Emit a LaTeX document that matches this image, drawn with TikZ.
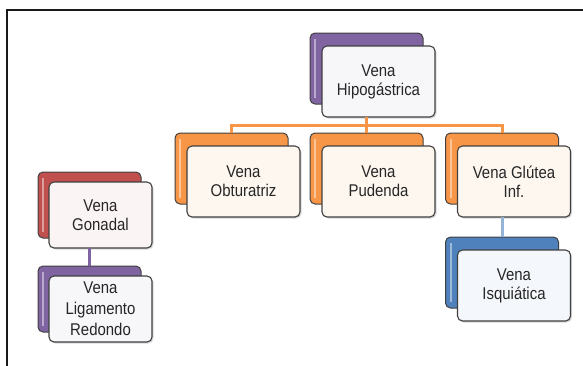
\documentclass[tikz,border=0pt]{standalone}
\usepackage{fontspec}
\setmainfont[FakeStretch=0.88]{Liberation Sans}
\usetikzlibrary{shadows}
\definecolor{venaPurple}{RGB}{128,100,162}
\definecolor{venaOrange}{RGB}{247,150,70}
\definecolor{venaRed}{RGB}{192,80,77}
\definecolor{venaBlue}{RGB}{79,129,189}
\definecolor{venaLink}{RGB}{149,179,215}

\begin{document}
\begin{tikzpicture}[x=1pt,y=-1pt,
  backBox/.style={draw=black!75, line width=1pt, rounded corners=5pt,
    minimum width=113pt, minimum height=71pt, inner sep=0pt, outer sep=0pt,
    path picture={\draw[white, opacity=.45, line width=2pt]
      ([xshift=5pt,yshift=-6pt]path picture bounding box.north west) --
      ([xshift=5pt,yshift=6pt]path picture bounding box.south west);}},
  frontBox/.style={draw=black!75, line width=1.1pt, rounded corners=5pt,
    minimum width=113pt, minimum height=71pt, inner sep=0pt, outer sep=0pt,
    align=center, font=\fontsize{17}{19}\selectfont, text=black!85,
    drop shadow={shadow xshift=1.5pt, shadow yshift=-1.5pt, opacity=.3}},
  smallBox/.style={minimum width=103pt, minimum height=66pt},
  linkLine/.style={line width=3pt}]
  \useasboundingbox (0,0) rectangle (583,365);
  \draw[line width=2pt, black!90] (7,366) -- (7,10) -- (584,10);

  % top
  \node[backBox, fill=venaPurple] (hipoBack) at (366.5,68.5) {};
  \node[frontBox, fill=venaPurple!6!white] (hipo) at (378.5,81.5) {Vena\\Hipogástrica};

  % second row
  \node[backBox, fill=venaOrange] (obtBack) at (231.5,168.5) {};
  \node[frontBox, fill=venaOrange!8!white] (obt) at (243.5,181.5) {Vena\\Obturatriz};
  \node[backBox, fill=venaOrange] (pudBack) at (366.5,168.5) {};
  \node[frontBox, fill=venaOrange!8!white] (pud) at (378.5,181.5) {Vena\\Pudenda};
  \node[backBox, fill=venaOrange] (gluBack) at (502,168.5) {};
  \node[frontBox, fill=venaOrange!8!white] (glu) at (514,181.5) {Vena Glútea\\Inf.};

  \node[backBox, fill=venaBlue] (isqBack) at (502,272.5) {};
  \node[frontBox, fill=venaBlue!6!white] (isq) at (514,285.5) {Vena\\Isquiática};

  % left column
  \node[backBox, smallBox, fill=venaRed] (gonBack) at (89.5,205) {};
  \node[frontBox, smallBox, fill=venaRed!6!white] (gon) at (100.5,215) {Vena\\Gonadal};
  \node[backBox, smallBox, fill=venaPurple] (ligBack) at (89.5,299) {};
  \node[frontBox, smallBox, fill=venaPurple!6!white, font=\fontsize{17}{21}\selectfont] (lig) at (100.5,309) {Vena\\Ligamento\\Redondo};

  \draw[linkLine, venaOrange] (hipoBack |- hipo.south) -- ++(0,8) -| (obtBack.north);
  \draw[linkLine, venaOrange] (hipoBack |- hipo.south) -- ++(0,8) -| (gluBack.north);
  \draw[linkLine, venaOrange] (hipoBack |- hipo.south) -- (pudBack.north);
  \draw[linkLine, venaLink] (gluBack |- glu.south) -- (isqBack.north);
  \draw[linkLine, venaPurple] (gonBack |- gon.south) -- (ligBack.north);
\end{tikzpicture}
\end{document}
